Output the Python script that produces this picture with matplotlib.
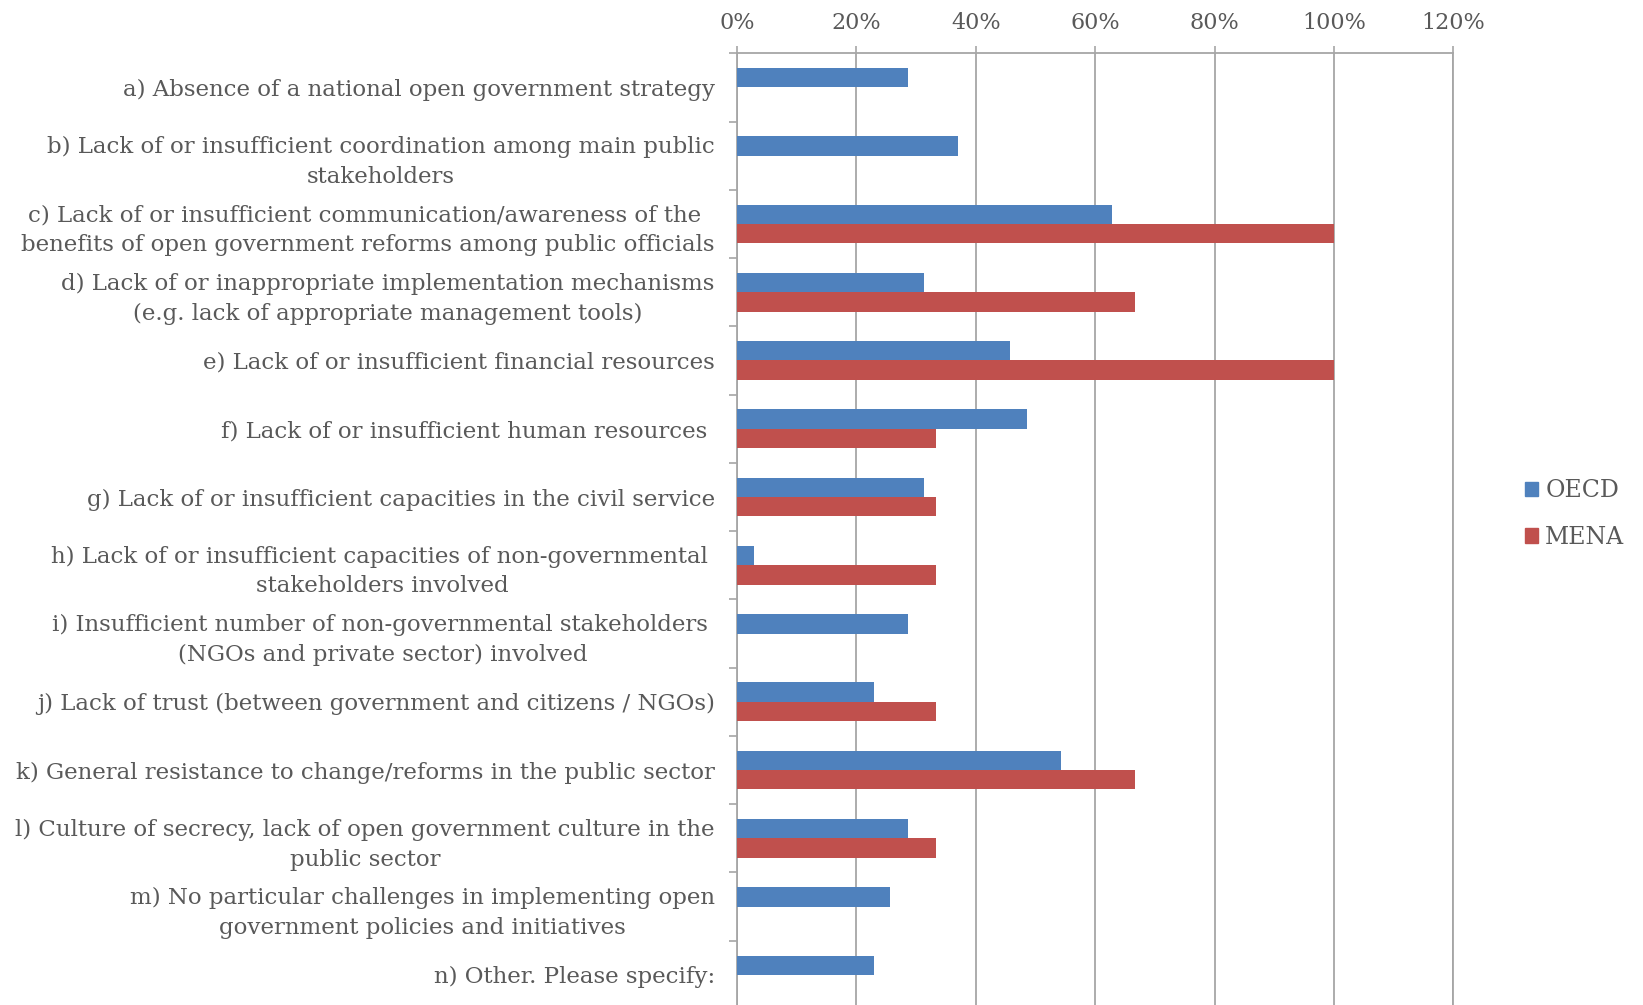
import matplotlib
matplotlib.use("Agg")
import matplotlib.pyplot as plt
import matplotlib.ticker as mtick
from matplotlib.patches import Patch
import numpy as np

# --- Data ---
CATEGORIES = [
    "a) Absence of a national open government strategy",
    "b) Lack of or insufficient coordination among main public\nstakeholders",
    "c) Lack of or insufficient communication/awareness of the \nbenefits of open government reforms among public officials",
    "d) Lack of or inappropriate implementation mechanisms\n(e.g. lack of appropriate management tools)",
    "e) Lack of or insufficient financial resources",
    "f) Lack of or insufficient human resources ",
    "g) Lack of or insufficient capacities in the civil service",
    "h) Lack of or insufficient capacities of non-governmental \nstakeholders involved",
    "i) Insufficient number of non-governmental stakeholders \n(NGOs and private sector) involved",
    "j) Lack of trust (between government and citizens / NGOs)",
    "k) General resistance to change/reforms in the public sector",
    "l) Culture of secrecy, lack of open government culture in the\npublic sector",
    "m) No particular challenges in implementing open\ngovernment policies and initiatives",
    "n) Other. Please specify:",
]
OECD = [0.286, 0.371, 0.629, 0.314, 0.457, 0.486, 0.314, 0.029, 0.286, 0.229, 0.543, 0.286, 0.257, 0.229]
MENA = [0.0, 0.0, 1.0, 0.667, 1.0, 0.333, 0.333, 0.333, 0.0, 0.333, 0.667, 0.333, 0.0, 0.0]
SERIES = ["OECD", "MENA"]
X_TICKS = [0, 0.2, 0.4, 0.6, 0.8, 1.0, 1.2]

# --- Style ---
C_OECD = "#4F81BD"
C_MENA = "#C0504D"
C_GRID = "#A6A6A6"
C_TEXT = "#595959"
FONT = ["DejaVu Serif"]
FS_LAB = 16.5
FS_TICK = 16
FS_LEG = 17

plt.rcParams.update({
    "font.family": FONT,
    "text.color": C_TEXT,
    "xtick.color": C_GRID,
    "ytick.color": C_GRID,
    "xtick.labelcolor": C_TEXT,
    "ytick.labelcolor": C_TEXT,
})

W, H = 1643, 1005
fig = plt.figure(figsize=(W / 100, H / 100), dpi=100)
ax = fig.add_axes([737 / W, 1 - 1009 / H, (1453.3 - 737) / W, (1009 - 53.3) / H])

y = np.arange(len(CATEGORIES))
bh = 0.283
ax.barh(y - bh / 2, OECD, height=bh, color=C_OECD, label=SERIES[0], zorder=3)
ax.barh(y + bh / 2, MENA, height=bh, color=C_MENA, label=SERIES[1], zorder=3)

ax.set_xlim(0, 1.2)
ax.set_ylim(len(CATEGORIES) - 0.5, -0.5)

ax.xaxis.tick_top()
ax.set_xticks(X_TICKS)
ax.xaxis.set_major_formatter(mtick.PercentFormatter(xmax=1, decimals=0))
ax.tick_params(axis="x", which="major", length=5, width=1.2, pad=9, labelsize=FS_TICK)
ax.grid(axis="x", color=C_GRID, linewidth=1.3, zorder=0)

ax.set_yticks(y)
ax.set_yticklabels(CATEGORIES)
for t in ax.get_yticklabels():
    t.set_multialignment("center")
    t.set_linespacing(1.45)
ax.set_yticks(np.arange(len(CATEGORIES) + 1) - 0.5, minor=True)
ax.tick_params(axis="y", which="major", length=0, pad=16, labelsize=FS_LAB)
ax.tick_params(axis="y", which="minor", length=6, width=1.2)

for side in ["top", "left", "right"]:
    ax.spines[side].set_color(C_GRID)
    ax.spines[side].set_linewidth(1.3)
ax.spines["bottom"].set_visible(False)

handles = [Patch(color=C_OECD), Patch(color=C_MENA)]
fig.legend(handles, SERIES, loc="center left", bbox_to_anchor=(1518 / W, 1 - 514 / H),
           frameon=False, fontsize=FS_LEG, handlelength=0.55, handleheight=0.55,
           handletextpad=0.3, labelspacing=1.0, labelcolor=C_TEXT,
           borderaxespad=0, borderpad=0.3)

fig.savefig("out.png", dpi=100)
